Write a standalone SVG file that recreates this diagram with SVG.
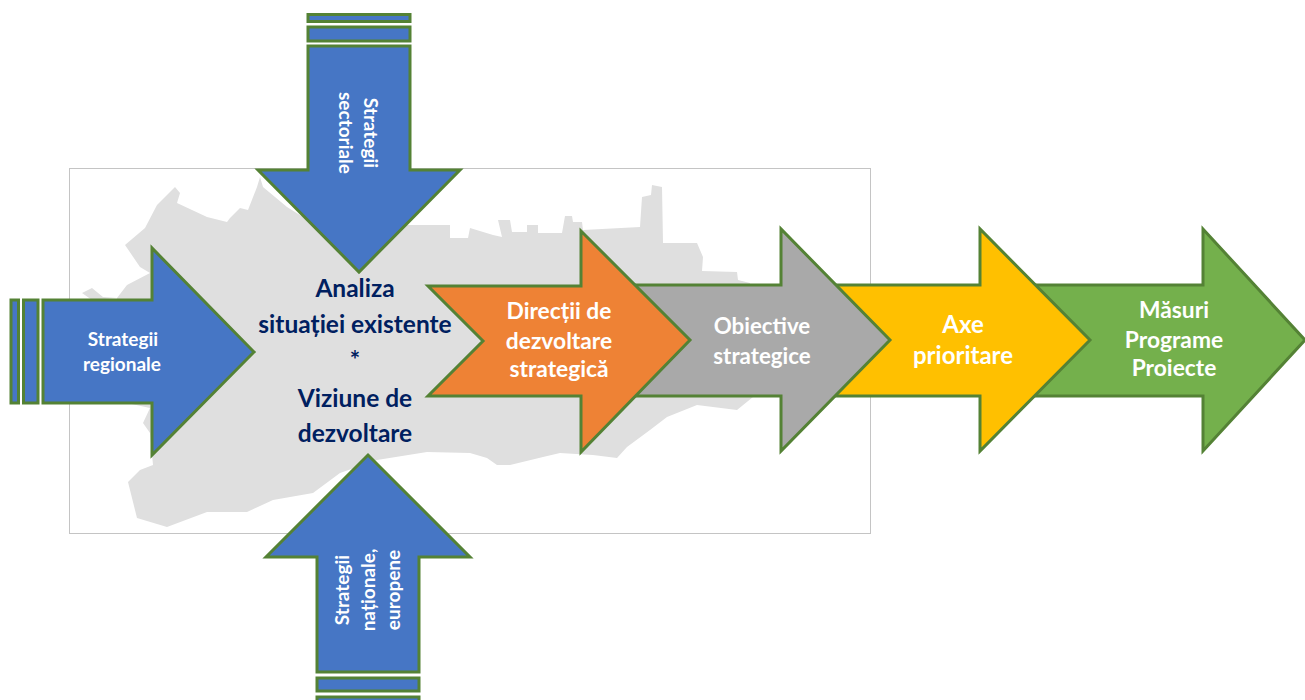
<svg xmlns="http://www.w3.org/2000/svg" width="1305" height="700" viewBox="0 0 1305 700">
<style>
.a{stroke:#548235;stroke-width:3;stroke-linejoin:miter}
.b{fill:#4676c5}
.t{font-family:"Lato","Open Sans",sans-serif;font-weight:700;text-anchor:middle;fill:#fff}
.s{font-size:19px}
.m{font-size:22.800px}
.n{font-size:24.500px;fill:#002060}
</style>
<rect width="1305" height="700" fill="#fff"/>
<g id="map">
<rect x="69.5" y="168.5" width="801" height="365" fill="#fff" stroke="#c4c4c4" stroke-width="1"/>
<polygon fill="#dfdfdf" points="157,205 175,187 180,193 177,203 207,217 227,222 230,218 240,208 248,210 257,187 260,177 263,187 287,207 340,240 407,225 450,225 450,238 468,238 470,228 493,235 502,237 498,220 510,220 512,232 527,232 527,225 538,225 538,233 562,233 565,216 572,216 573,222 582,222 583,230 640,227 642,197 651,195 652,185 662,187 663,243 697,243 703,257 702,271 737,272 738,280 750,283 753,397 737,410 697,405 667,417 650,430 627,447 617,458 593,455 560,453 543,457 510,465 497,465 487,458 470,453 427,452 377,460 340,473 313,493 273,500 247,512 207,512 167,527 137,518 128,482 140,470 153,465 150,433 143,423 150,408 127,403 103,400 117,298 103,297 92,288 82,293 92,300 117,298 127,285 150,273 140,267 125,245 145,228"/>
</g>
<g id="arrow-masuri"><polygon class="a" fill="#74b04c" points="1000,285 1203,285 1203,229 1305,340 1203,451 1203,396 1000,396"/>
<text class="t m"><tspan x="1174" y="318">Măsuri</tspan><tspan x="1174" y="348">Programe</tspan><tspan x="1174" y="376">Proiecte</tspan></text></g>
<g id="arrow-axe"><polygon class="a" fill="#ffc000" points="800,285 980,285 980,229 1090,340 980,451 980,396 800,396"/>
<text class="t m" style="font-size:24px"><tspan x="963" y="333">Axe</tspan><tspan x="963" y="364">prioritare</tspan></text></g>
<g id="arrow-obiective"><polygon class="a" fill="#a9a9a9" points="600,285 781,285 781,229 890,340 781,451 781,396 600,396"/>
<text class="t m" style="font-size:22.300px"><tspan x="762" y="334">Obiective</tspan><tspan x="762" y="364">strategice</tspan></text></g>
<g id="arrow-directii"><polygon class="a" fill="#ee8235" points="428,286 581,286 581,231 690,340 581,452 581,396 428,396 483,341"/>
<text class="t m"><tspan x="559" y="319">Direcții de</tspan><tspan x="559" y="349">dezvoltare</tspan><tspan x="559" y="377">strategică</tspan></text></g>
<g id="center-text"><text class="t n"><tspan x="355" y="297">Analiza</tspan><tspan x="355" y="333">situației existente</tspan><tspan x="355" y="369">*</tspan><tspan x="355" y="407">Viziune de</tspan><tspan x="355" y="442">dezvoltare</tspan></text></g>
<g id="arrow-regionale">
<rect class="a b" x="11" y="300" width="7.5" height="103"/><rect class="a b" x="23.5" y="300" width="14.5" height="103"/>
<polygon class="a b" points="43,300 152,300 152,248 254,352 152,455 152,403 43,403"/>
<text class="t s"><tspan x="123" y="346">Strategii</tspan><tspan x="122" y="371">regionale</tspan></text></g>
<g id="arrow-sectoriale">
<rect class="a b" x="308" y="14.500" width="102" height="7"/><rect class="a b" x="308" y="27" width="102" height="14"/>
<polygon class="a b" points="308,46 410,46 410,170 460,170 359,272 258,170 308,170"/>
<text class="t s" transform="translate(359 133) rotate(90)"><tspan x="0" y="-5">Strategii</tspan><tspan x="0" y="20">sectoriale</tspan></text></g>
<g id="arrow-nationale">
<rect class="a b" x="317" y="678" width="102" height="13"/><rect class="a b" x="317" y="697" width="102" height="8"/>
<polygon class="a b" points="317,672 419,672 419,557 470,557 368,455 266,557 317,557"/>
<text class="t s" transform="translate(368 590) rotate(-90)"><tspan x="0" y="-19">Strategii</tspan><tspan x="0" y="7">naționale,</tspan><tspan x="0" y="32">europene</tspan></text></g>
</svg>
